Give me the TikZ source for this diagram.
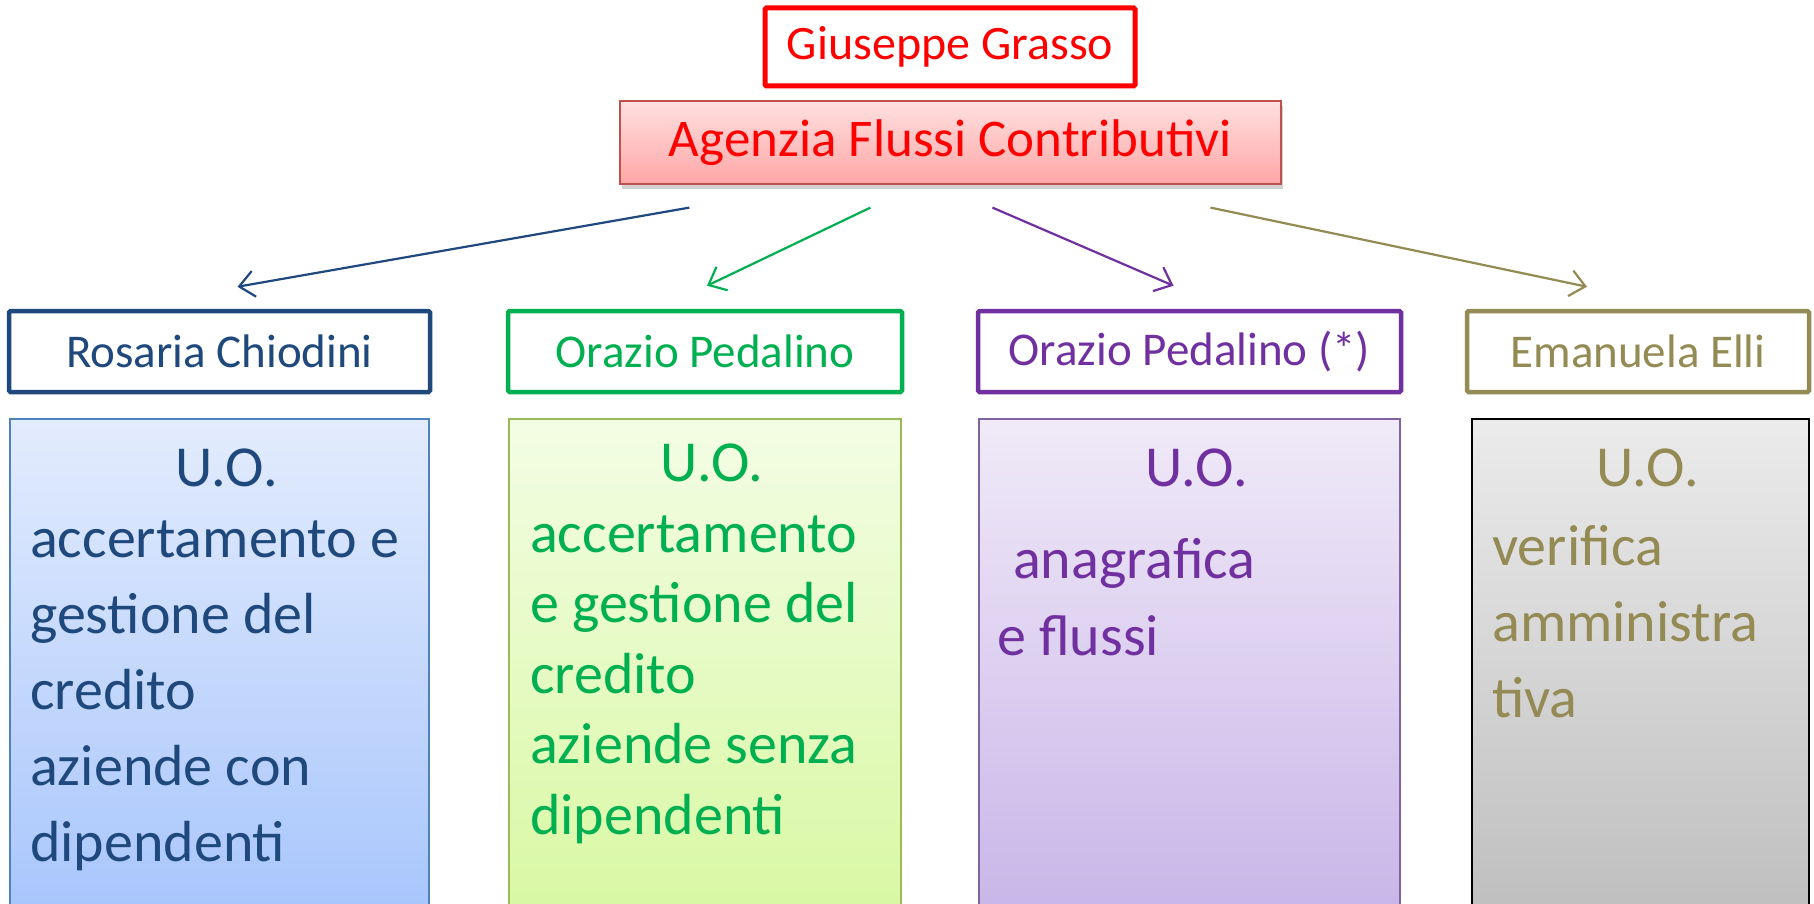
\documentclass[tikz,border=0pt]{standalone}
\usepackage{fontspec}
\setmainfont{Carlito}
\usetikzlibrary{arrows.meta,shadows,calc}
\definecolor{cred}{HTML}{FF0000}
\definecolor{cblue}{HTML}{1F497D}
\definecolor{cgreen}{HTML}{00B050}
\definecolor{cpurple}{HTML}{7030A0}
\definecolor{colive}{HTML}{948A54}
\definecolor{redtop}{HTML}{FFE0E0}
\definecolor{redbot}{HTML}{FFA6A6}
\definecolor{redbrd}{HTML}{C0504D}
\definecolor{bluetop}{HTML}{E3ECFD}
\definecolor{bluebot}{HTML}{A7C5FC}
\definecolor{bluebrd}{HTML}{4F81BD}
\definecolor{greentop}{HTML}{F3FDE4}
\definecolor{greenbot}{HTML}{D8F8A2}
\definecolor{greenbrd}{HTML}{9BBB59}
\definecolor{purptop}{HTML}{F0EAF8}
\definecolor{purpbot}{HTML}{C8B5E8}
\definecolor{purpbrd}{HTML}{8064A2}
\definecolor{graytop}{HTML}{EBEBEB}
\definecolor{graybot}{HTML}{BEBEBE}
\tikzset{
  namebox/.style={draw, line width=4.5pt, fill=white, rounded corners=1.5pt, minimum height=81pt, inner sep=0pt, font=\fontsize{47}{56}\selectfont},
  uobox/.style={draw, line width=1.3pt, minimum height=501pt, inner sep=0pt},
  uotext/.style={font=\fontsize{58}{70}\selectfont, inner sep=0pt},
  conn/.style={line width=2.2pt, -{Straight Barb[length=15pt,width=26pt,line width=2.2pt]}},
}
\begin{document}
\begin{tikzpicture}[x=1pt,y=-1pt]
\clip (0,0) rectangle (1814,904);
\fill[white] (0,0) rectangle (1814,904);
% top
\node[draw=cred, line width=5pt, fill=white, rounded corners=1.5pt, minimum width=370pt, minimum height=78pt, inner sep=0pt, text=cred, font=\fontsize{48}{56}\selectfont] (gg) at (950,47) {Giuseppe Grasso};
\node[draw=redbrd, line width=1.2pt, top color=redtop, bottom color=redbot, minimum width=661pt, minimum height=83pt, inner sep=0pt, text=cred, font=\fontsize{53}{62}\selectfont, drop shadow={opacity=0.35, shadow xshift=2pt, shadow yshift=-5pt}] (afc) at (950.5,142.5) {Agenzia Flussi Contributivi};
% name boxes
\node[namebox, draw=cblue, text=cblue, minimum width=421pt] (n1) at (219.5,351.5) {Rosaria Chiodini};
\node[namebox, draw=cgreen, text=cgreen, minimum width=394pt] (n2) at (705,351.5) {Orazio Pedalino};
\node[namebox, draw=cpurple, text=cpurple, minimum width=423pt] (n3) at (1189.5,351.5) {Orazio Pedalino (*)};
\node[namebox, draw=colive, text=colive, minimum width=342pt] (n4) at (1638,351.5) {Emanuela Elli};
% UO boxes
\node[uobox, draw=bluebrd, top color=bluetop, bottom color=bluebot, minimum width=419pt] (u1) at (219.5,669.5) {};
\node[uobox, draw=greenbrd, top color=greentop, bottom color=greenbot, minimum width=392pt] (u2) at (705,669.5) {};
\node[uobox, draw=purpbrd, top color=purptop, bottom color=purpbot, minimum width=421pt] (u3) at (1189.5,669.5) {};
\node[uobox, draw=black, line width=2pt, top color=graytop, bottom color=graybot, minimum width=337pt] (u4) at (1640.5,669.5) {};
% U.O. titles
\node[uotext, text=cblue, anchor=base] (t1) at ([xshift=7pt]u1.north |- 0,486) {U.O.};
\node[uotext, text=cgreen, anchor=base] (t2) at ([xshift=7pt]u2.north |- 0,481) {U.O.};
\node[uotext, text=cpurple, anchor=base] (t3) at ([xshift=7pt]u3.north |- 0,486) {U.O.};
\node[uotext, text=colive, anchor=base] (t4) at ([xshift=7pt]u4.north |- 0,486) {U.O.};
% texts
\foreach \t [count=\i] in {accertamento e, gestione del, credito, aziende con, dipendenti}
  \node[uotext, text=cblue, anchor=base west] (a\i) at (30,{557+(\i-1)*76}) {\t};
\foreach \t [count=\i] in {accertamento, e gestione del, credito, aziende senza, dipendenti}
  \node[uotext, text=cgreen, anchor=base west] (b\i) at (530,{552+(\i-1)*70.6}) {\t};
\node[uotext, text=cpurple, anchor=base west] (c1) at (1013,578) {anagrafica};
\node[uotext, text=cpurple, anchor=base west] (c2) at (997,655) {e flussi};
\foreach \t [count=\i] in {verifica, amministra, tiva}
  \node[uotext, text=colive, anchor=base west] (d\i) at (1492,{565+(\i-1)*76}) {\t};
% connectors
\coordinate (s1) at ([xshift=70pt,yshift=-23pt]afc.south west);
\coordinate (s2) at ([xshift=251pt,yshift=-23pt]afc.south west);
\coordinate (s3) at ([xshift=373pt,yshift=-23pt]afc.south west);
\coordinate (s4) at ([xshift=591pt,yshift=-23pt]afc.south west);
\coordinate (e1) at ([xshift=18pt,yshift=22pt]n1.north);
\coordinate (e2) at ([xshift=2pt,yshift=23pt]n2.north);
\coordinate (e3) at ([xshift=-16pt,yshift=23pt]n3.north);
\coordinate (e4) at ([xshift=-51pt,yshift=22pt]n4.north);
\draw[conn, cblue] (s1) -- (e1);
\draw[conn, cgreen] (s2) -- (e2);
\draw[conn, cpurple] (s3) -- (e3);
\draw[conn, colive] (s4) -- (e4);
\end{tikzpicture}
\end{document}
